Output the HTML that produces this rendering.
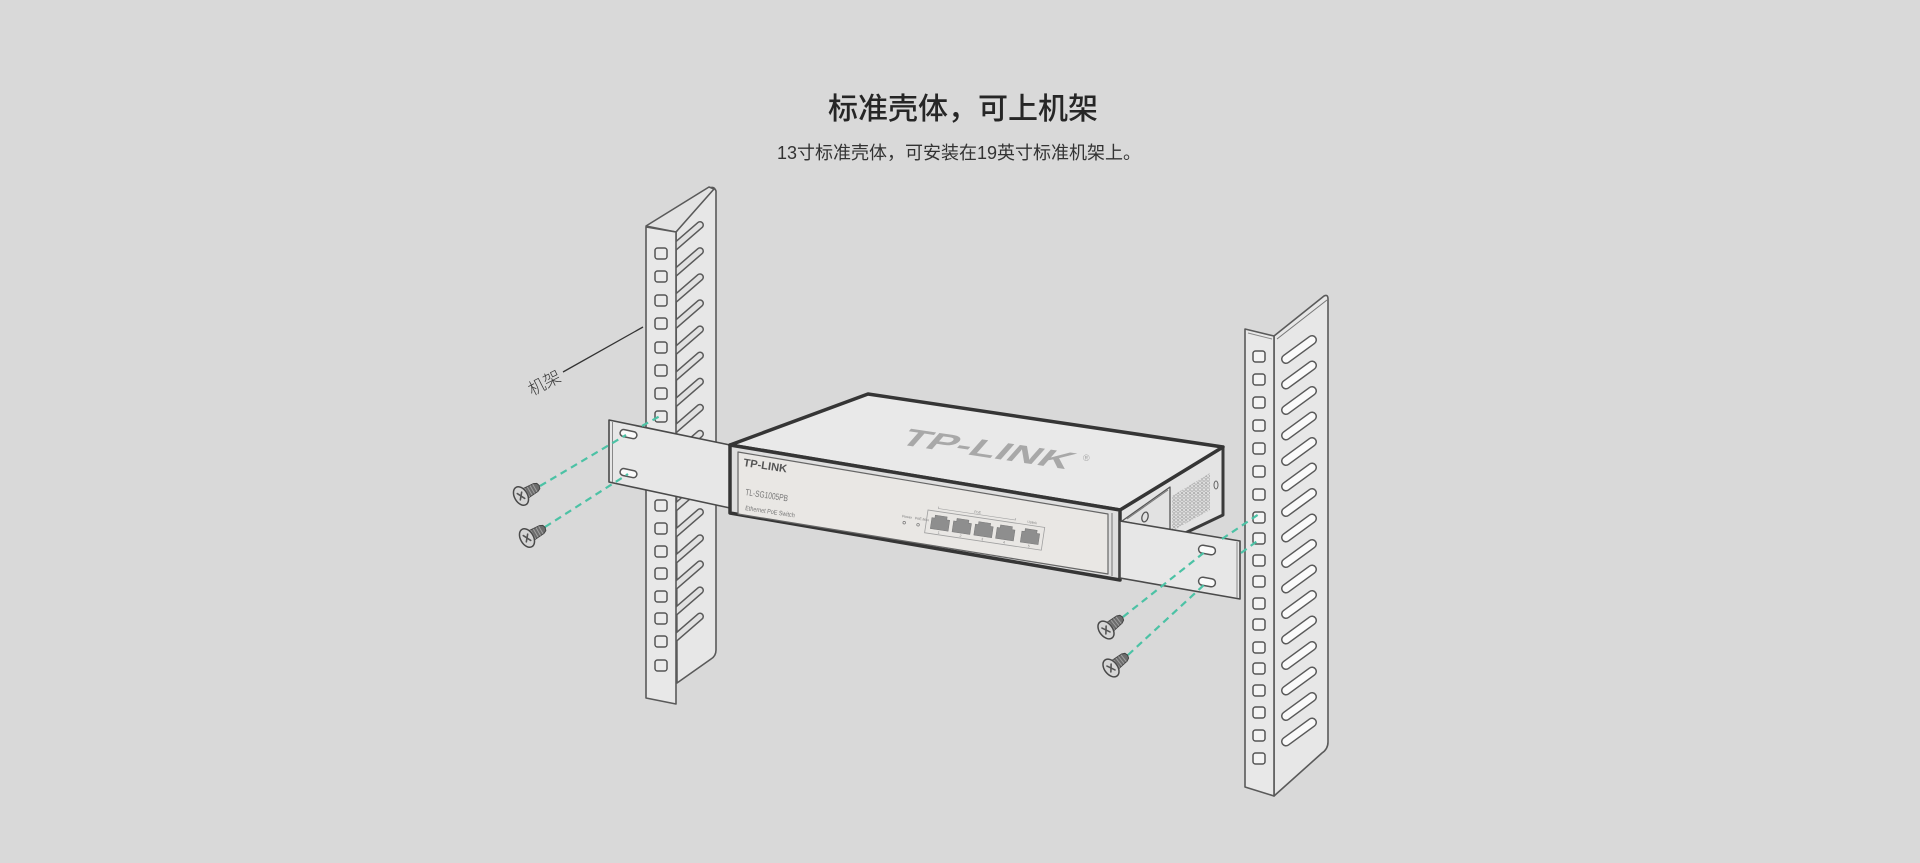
<!DOCTYPE html>
<html><head><meta charset="utf-8">
<style>
html,body{margin:0;padding:0;background:#d9d9d9;}
svg{display:block;}
</style></head><body>
<svg width="1920" height="863" viewBox="0 0 1920 863" xmlns="http://www.w3.org/2000/svg">
<defs>
<pattern id="hex" width="4" height="3.4" patternUnits="userSpaceOnUse">
<circle cx="2" cy="1.7" r="1.3" fill="none" stroke="#9a9a9a" stroke-width="0.6"/>
</pattern>
<g id="screw">
<path d="M3,-5.5 L17,-4.5 L20,-3 L21,0 L20,3 L17,4.5 L3,5.5 Z" fill="#6c6c6c" stroke="#444" stroke-width="1"/>
<g stroke="#a0a0a0" stroke-width="1"><line x1="7" y1="-5" x2="7" y2="5"/><line x1="10" y1="-4.8" x2="10" y2="4.8"/><line x1="13" y1="-4.6" x2="13" y2="4.6"/><line x1="16" y1="-4.4" x2="16" y2="4.4"/></g>
<path d="M0,-9 L4,-5.5 L4,5.5 L0,9 Z" fill="#9a9a9a" stroke="#444" stroke-width="1"/>
<ellipse cx="0" cy="0" rx="6.5" ry="10" fill="#d6d6d6" stroke="#4a4a4a" stroke-width="1.5"/>
<g stroke="#555" stroke-width="1.6" stroke-linecap="round"><line x1="-2" y1="-4" x2="2" y2="4"/><line x1="2.5" y1="-3" x2="-2.5" y2="3"/></g>
</g>
</defs>
<rect width="1920" height="863" fill="#d9d9d9"/>

<!-- Titles -->
<text x="963" y="119" text-anchor="middle" style="font-family:'Liberation Sans','Noto Sans CJK SC',sans-serif;font-size:30px;font-weight:500;" fill="#262626">标准壳体，可上机架</text>
<text x="959" y="159" text-anchor="middle" style="font-family:'Liberation Sans','Noto Sans CJK SC',sans-serif;font-size:18px;" fill="#333">13寸标准壳体，可安装在19英寸标准机架上。</text>

<!-- LEFT RACK -->
<g stroke="#5a5a5a" stroke-width="1.6" stroke-linejoin="round">
<path d="M676,232 L710,188 Q714,186 716,191 L716,650 Q716,656 711,659 L677,683 Z" fill="#e7e7e7"/>
<path d="M670,251L700,225 M670,277.1L700,251.1 M670,303.2L700,277.2 M670,329.3L700,303.3 M670,355.4L700,329.4 M670,381.5L700,355.5 M670,407.6L700,381.6 M670,433.7L700,407.7 M670,459.8L700,433.8 M670,485.9L700,459.9 M670,512L700,486 M670,538.1L700,512.1 M670,564.2L700,538.2 M670,590.3L700,564.3 M670,616.4L700,590.4 M670,642.5L700,616.5" fill="none" stroke="#5a5a5a" stroke-width="8" stroke-linecap="round"/>
<path d="M670,251L700,225 M670,277.1L700,251.1 M670,303.2L700,277.2 M670,329.3L700,303.3 M670,355.4L700,329.4 M670,381.5L700,355.5 M670,407.6L700,381.6 M670,433.7L700,407.7 M670,459.8L700,433.8 M670,485.9L700,459.9 M670,512L700,486 M670,538.1L700,512.1 M670,564.2L700,538.2 M670,590.3L700,564.3 M670,616.4L700,590.4 M670,642.5L700,616.5" fill="none" stroke="#e1e1e1" stroke-width="5" stroke-linecap="round"/>
<path d="M646,226 L709,187 L714,189 L676,232 Z" fill="#e3e3e3"/>
<path d="M646,227 L676,232 L676,704 L646,698 Z" fill="#e8e8e8"/>
<g fill="#ebebeb" stroke="#555" stroke-width="1.5">
<rect x="655" y="248" width="12" height="11" rx="2.5"/>
<rect x="655" y="271" width="12" height="11" rx="2.5"/>
<rect x="655" y="295" width="12" height="11" rx="2.5"/>
<rect x="655" y="318" width="12" height="11" rx="2.5"/>
<rect x="655" y="342" width="12" height="11" rx="2.5"/>
<rect x="655" y="365" width="12" height="11" rx="2.5"/>
<rect x="655" y="388" width="12" height="11" rx="2.5"/>
<rect x="655" y="411" width="12" height="11" rx="2.5"/>
<rect x="655" y="433" width="12" height="11" rx="2.5"/>
<rect x="655" y="455" width="12" height="11" rx="2.5"/>
<rect x="655" y="478" width="12" height="11" rx="2.5"/>
<rect x="655" y="500" width="12" height="11" rx="2.5"/>
<rect x="655" y="523" width="12" height="11" rx="2.5"/>
<rect x="655" y="546" width="12" height="11" rx="2.5"/>
<rect x="655" y="568" width="12" height="11" rx="2.5"/>
<rect x="655" y="591" width="12" height="11" rx="2.5"/>
<rect x="655" y="613" width="12" height="11" rx="2.5"/>
<rect x="655" y="636" width="12" height="11" rx="2.5"/>
<rect x="655" y="660" width="12" height="11" rx="2.5"/>
</g>
</g>

<!-- RIGHT RACK -->
<g stroke="#5a5a5a" stroke-width="1.6" stroke-linejoin="round">
<path d="M1274,336 L1324,296 Q1328,294 1328,299 L1328,742 Q1328,749 1322,753 L1274,796 Z" fill="#e7e7e7"/>
<line x1="1277" y1="339" x2="1327" y2="300" stroke="#777" stroke-width="1"/>
<path d="M1286,359L1312,340 M1286,384.5L1312,365.5 M1286,410L1312,391 M1286,435.5L1312,416.5 M1286,461L1312,442 M1286,486.5L1312,467.5 M1286,512L1312,493 M1286,537.5L1312,518.5 M1286,563L1312,544 M1286,588.5L1312,569.5 M1286,614L1312,595 M1286,639.5L1312,620.5 M1286,665L1312,646 M1286,690.5L1312,671.5 M1286,716L1312,697 M1286,741.5L1312,722.5" fill="none" stroke="#5a5a5a" stroke-width="10" stroke-linecap="round"/>
<path d="M1286,359L1312,340 M1286,384.5L1312,365.5 M1286,410L1312,391 M1286,435.5L1312,416.5 M1286,461L1312,442 M1286,486.5L1312,467.5 M1286,512L1312,493 M1286,537.5L1312,518.5 M1286,563L1312,544 M1286,588.5L1312,569.5 M1286,614L1312,595 M1286,639.5L1312,620.5 M1286,665L1312,646 M1286,690.5L1312,671.5 M1286,716L1312,697 M1286,741.5L1312,722.5" fill="none" stroke="#fafafa" stroke-width="7" stroke-linecap="round"/>
<path d="M1245,329 L1274,336 L1274,796 L1245,787 Z" fill="#e8e8e8"/>
<line x1="1248" y1="333" x2="1272" y2="339" stroke="#888" stroke-width="1"/>
<g fill="#f4f4f4" stroke="#555" stroke-width="1.5">
<rect x="1253" y="351" width="12" height="11" rx="2.5"/>
<rect x="1253" y="374" width="12" height="11" rx="2.5"/>
<rect x="1253" y="397" width="12" height="11" rx="2.5"/>
<rect x="1253" y="420" width="12" height="11" rx="2.5"/>
<rect x="1253" y="443" width="12" height="11" rx="2.5"/>
<rect x="1253" y="466" width="12" height="11" rx="2.5"/>
<rect x="1253" y="489" width="12" height="11" rx="2.5"/>
<rect x="1253" y="512" width="12" height="11" rx="2.5"/>
<rect x="1253" y="533" width="12" height="11" rx="2.5"/>
<rect x="1253" y="555" width="12" height="11" rx="2.5"/>
<rect x="1253" y="576" width="12" height="11" rx="2.5"/>
<rect x="1253" y="598" width="12" height="11" rx="2.5"/>
<rect x="1253" y="619" width="12" height="11" rx="2.5"/>
<rect x="1253" y="642" width="12" height="11" rx="2.5"/>
<rect x="1253" y="663" width="12" height="11" rx="2.5"/>
<rect x="1253" y="685" width="12" height="11" rx="2.5"/>
<rect x="1253" y="707" width="12" height="11" rx="2.5"/>
<rect x="1253" y="730" width="12" height="11" rx="2.5"/>
<rect x="1253" y="753" width="12" height="11" rx="2.5"/>
</g>
</g>

<!-- Label -->
<line x1="563" y1="372" x2="643" y2="327" stroke="#333" stroke-width="1.3"/>
<text x="544" y="389" text-anchor="middle" transform="rotate(-27 544 382)" style="font-family:'Liberation Sans','Noto Sans CJK SC',sans-serif;font-size:17px;font-weight:300;" fill="#3a3a3a">机架</text>

<!-- LEFT BRACKET -->
<path d="M609,420 L730,445 L730,508 L609,482 Z" fill="#e7e7e7" stroke="#4a4a4a" stroke-width="1.6" stroke-linejoin="round"/>
<line x1="612.5" y1="422" x2="612.5" y2="482" stroke="#888" stroke-width="1"/>
<rect x="620" y="430.5" width="17" height="7" rx="3.5" transform="rotate(12 628 434)" fill="#fafafa" stroke="#555" stroke-width="1.5"/>
<rect x="620" y="469.5" width="17" height="7" rx="3.5" transform="rotate(12 628 473)" fill="#fafafa" stroke="#555" stroke-width="1.5"/>

<!-- SWITCH -->
<path d="M1120,510 L1223,447 L1223,515 L1160,545 L1120,565 Z" fill="#e4e4e4" stroke="#3a3a3a" stroke-width="3" stroke-linejoin="round"/>
<path d="M1172,496 L1210,473 L1210,510 L1172,531 Z" fill="url(#hex)"/>
<ellipse cx="1216" cy="485" rx="2" ry="4" fill="none" stroke="#666" stroke-width="1"/>
<path d="M1122,521 L1170,487 L1170,531 Z" fill="#e2e2e2" stroke="#555" stroke-width="1.3" stroke-linejoin="round"/>
<line x1="1127" y1="519" x2="1168" y2="490" stroke="#777" stroke-width="1"/>
<ellipse cx="1145" cy="517" rx="3" ry="5" transform="rotate(15 1145 517)" fill="none" stroke="#555" stroke-width="1.3"/>

<path d="M730,445 L868,394 L1223,447 L1120,510 Z" fill="#e9e9e9" stroke="#353535" stroke-width="3.5" stroke-linejoin="round"/>
<text transform="translate(897,444) rotate(8.5) skewX(-33)" style="font-family:'Liberation Sans',sans-serif;font-size:25px;font-weight:bold;" fill="#a8a8a8" textLength="170" lengthAdjust="spacingAndGlyphs">TP-LINK</text>
<text x="1083" y="461" style="font-family:'Liberation Sans',sans-serif;font-size:9px;" fill="#a9a9a9">®</text>

<path d="M730,445 L1120,510 L1120,580 L730,513 Z" fill="#dedede" stroke="#353535" stroke-width="3.5" stroke-linejoin="round"/>
<path d="M738,452 L1108,514 L1108,574 L738,514 Z" fill="#e9e7e4" stroke="#666" stroke-width="1.2" stroke-linejoin="round"/>
<path d="M1112,513 L1112,576" stroke="#777" stroke-width="1"/>

<text transform="translate(743,466) rotate(8.5)" style="font-family:'Liberation Sans',sans-serif;font-size:11px;font-weight:bold;" fill="#555" textLength="44" lengthAdjust="spacingAndGlyphs">TP-LINK</text>
<text transform="translate(745,495) rotate(8.5)" style="font-family:'Liberation Sans',sans-serif;font-size:9px;" fill="#777" textLength="43" lengthAdjust="spacingAndGlyphs">TL-SG1005PB</text>
<text transform="translate(745,510) rotate(8.5)" style="font-family:'Liberation Sans',sans-serif;font-size:6.5px;" fill="#777" textLength="50" lengthAdjust="spacingAndGlyphs">Ethernet PoE Switch</text>

<g transform="translate(900,517) rotate(8.5)" style="font-family:'Liberation Sans',sans-serif;font-size:3.5px;" fill="#777">
<text x="2" y="0">Power</text><text x="15" y="0">PoE Max</text>
<circle cx="5" cy="5" r="1.3" fill="none" stroke="#777" stroke-width="0.7"/>
<circle cx="19" cy="5" r="1.3" fill="none" stroke="#777" stroke-width="0.7"/>
</g>
<g transform="translate(928,510) rotate(8.5)">
<rect x="0" y="0" width="118" height="23" fill="none" stroke="#a0a0a0" stroke-width="0.8"/>
<path d="M10,-5 L10,-3 L88,-3 L88,-5" fill="none" stroke="#a0a0a0" stroke-width="0.6"/>
<g style="font-family:'Liberation Sans',sans-serif;font-size:3.5px;" fill="#888">
<text x="46" y="-4">PoE</text><text x="100" y="-2">Uplink</text>
<text x="13" y="22">1</text><text x="35" y="22">2</text><text x="57" y="22">3</text><text x="79" y="22">4</text><text x="104" y="22">5</text>
</g>
<g fill="#8e8e8e" stroke="#777" stroke-width="0.5">
<path d="M5,7 L8,7 L8,4 L20,4 L20,7 L23,7 L23,18 L5,18 Z"/>
<path d="M27,7 L30,7 L30,4 L42,4 L42,7 L45,7 L45,18 L27,18 Z"/>
<path d="M49,7 L52,7 L52,4 L64,4 L64,7 L67,7 L67,18 L49,18 Z"/>
<path d="M71,7 L74,7 L74,4 L86,4 L86,7 L89,7 L89,18 L71,18 Z"/>
<path d="M96,7 L99,7 L99,4 L111,4 L111,7 L114,7 L114,18 L96,18 Z"/>
</g>
</g>

<!-- RIGHT BRACKET -->
<path d="M1120,521 L1240,541 L1240,599 L1120,578 Z" fill="#e7e7e7" stroke="#4a4a4a" stroke-width="1.6" stroke-linejoin="round"/>
<line x1="1237" y1="542" x2="1237" y2="598" stroke="#888" stroke-width="1"/>
<rect x="1198.5" y="546" width="17" height="8" rx="4" transform="rotate(10 1207 550)" fill="#fafafa" stroke="#555" stroke-width="1.5"/>
<rect x="1198.5" y="578" width="17" height="8" rx="4" transform="rotate(10 1207 582)" fill="#fafafa" stroke="#555" stroke-width="1.5"/>

<!-- Dashed guide lines -->
<g stroke="#4cc2a5" stroke-width="2.2" stroke-dasharray="7 5" fill="none">
<path d="M540,486 L626,435"/>
<path d="M642,426 L660,416"/>
<path d="M545,527 L628,474"/>
<path d="M1123,617 L1206,551"/>
<path d="M1222,539 L1259,514"/>
<path d="M1128,655 L1206,583"/>
<path d="M1241,553 L1260,539"/>
</g>

<!-- Screws -->
<use href="#screw" transform="translate(521,496) rotate(-30)"/>
<use href="#screw" transform="translate(527,538) rotate(-30)"/>
<use href="#screw" transform="translate(1106,630) rotate(-38)"/>
<use href="#screw" transform="translate(1111,668) rotate(-38)"/>
</svg>
</body></html>
